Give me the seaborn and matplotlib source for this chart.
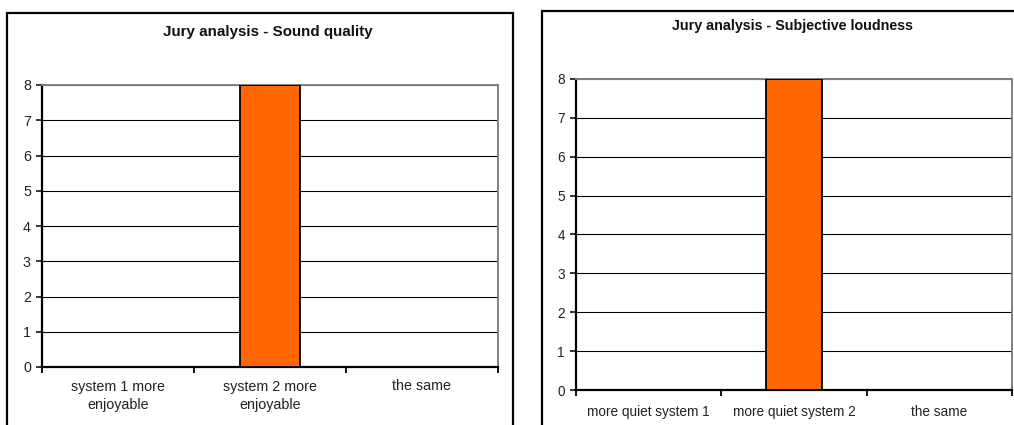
import matplotlib
matplotlib.use("Agg")
import matplotlib.pyplot as plt
from matplotlib.patches import Rectangle
from matplotlib.ticker import FixedLocator
import seaborn as sns
import pandas as pd

# Jury votes per answer
quality_categories = ["system 1 more\nenjoyable", "system 2 more\nenjoyable", "the same"]
quality_votes = [0, 8, 0]
loudness_categories = ["more quiet system 1", "more quiet system 2", "the same"]
loudness_votes = [0, 8, 0]
y_ticks = [0, 1, 2, 3, 4, 5, 6, 7, 8]

sns.set_theme(style="white")
plt.rcParams["font.family"] = ["Liberation Sans", "DejaVu Sans"]

W, H = 1014, 425
fig = plt.figure(figsize=(W / 100, H / 100), dpi=100)
fig.patch.set_facecolor("white")


def px_axes(left, top, right, bottom):
    return fig.add_axes([left / W, (H - bottom) / H, (right - left) / W, (bottom - top) / H])


def frame(left, top, right, bottom):
    fig.patches.append(Rectangle((left / W, (H - bottom) / H), (right - left) / W,
                                 (bottom - top) / H, transform=fig.transFigure,
                                 fill=False, edgecolor="black", linewidth=1.6,
                                 clip_on=False, zorder=0))


def jury_panel(ax, cats, votes, fsize, tsize, title, title_xy, label_pad):
    df = pd.DataFrame({"answer": cats, "votes": votes})
    sns.barplot(data=df, x="answer", y="votes", ax=ax, color="#FF6600",
                saturation=1, width=0.39, edgecolor="black", linewidth=1.3, zorder=3)
    ax.set_xlim(-0.5, len(cats) - 0.5)
    ax.set_ylim(0, 8)
    ax.set_yticks(y_ticks)
    ax.yaxis.grid(True, color="black", linewidth=0.8, zorder=0)
    ax.set_axisbelow(True)
    ax.set_xlabel("")
    ax.set_ylabel("")
    ax.tick_params(axis="x", which="major", length=0, pad=label_pad, labelsize=fsize,
                   labelcolor="#222222")
    for lbl in ax.get_xticklabels():
        lbl.set_linespacing(1.45)
    ax.xaxis.set_minor_locator(FixedLocator([i - 0.5 for i in range(len(cats) + 1)]))
    ax.tick_params(axis="x", which="minor", bottom=True, length=4, width=1.3,
                   color="black", direction="out")
    ax.tick_params(axis="y", left=True, length=4, width=1.1, color="black",
                   direction="out", pad=4, labelsize=fsize, labelcolor="#222222")
    for side in ("left", "bottom"):
        ax.spines[side].set_color("black")
        ax.spines[side].set_linewidth(1.6)
    for side in ("top", "right"):
        ax.spines[side].set_color("#808080")
        ax.spines[side].set_linewidth(1.4)
    fig.text(title_xy[0] / W, 1 - title_xy[1] / H, title, ha="center", va="center",
             fontsize=tsize, fontweight="bold", color="#111111")


frame(7, 13, 513, 440)
ax1 = px_axes(42, 85, 498, 367)
jury_panel(ax1, quality_categories, quality_votes, 10.3, 10.9,
           "Jury analysis - Sound quality", (268, 32), 9)

frame(542, 11, 1030, 440)
ax2 = px_axes(576, 79, 1012, 390)
jury_panel(ax2, loudness_categories, loudness_votes, 9.8, 10.3,
           "Jury analysis - Subjective loudness", (792, 26), 11)

fig.savefig("out.png", dpi=100, facecolor="white")
